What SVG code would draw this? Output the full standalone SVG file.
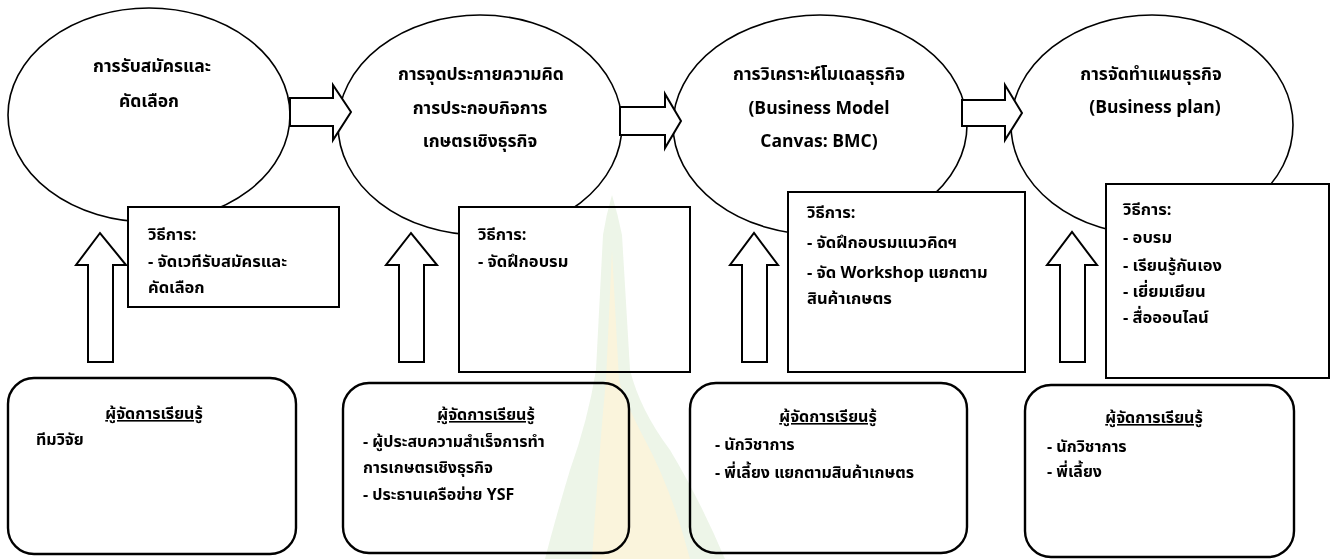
<svg xmlns="http://www.w3.org/2000/svg" width="1337" height="559" viewBox="0 0 1337 559">
<style>
text{font-family:"Noto Sans Thai","Leelawadee UI",Tahoma,"Noto Sans","DejaVu Sans",sans-serif;font-size:16.5px;font-weight:bold;fill:#000}
.c{text-anchor:middle}
.e{font-size:17.5px}
.m{font-size:16px}
.el{fill:#fff;stroke:#000;stroke-width:1.6}
.bx{fill:#fff;stroke:#000;stroke-width:2}
.rb{fill:#fff;stroke:#000;stroke-width:2.4}
.ar{fill:#fff;stroke:#000;stroke-width:2;stroke-linejoin:miter}
.u{text-decoration:underline}
</style>
<rect width="1337" height="559" fill="#fff"/>
<g id="stage1">
<ellipse class="el" cx="149" cy="115" rx="141" ry="107"/>
<text class="c e" x="152" y="72">การรับสมัครและ</text>
<text class="c e" x="149" y="107">คัดเลือก</text>
</g>
<g id="stage2">
<ellipse class="el" cx="480" cy="125" rx="142" ry="110"/>
<text class="c e" x="481" y="80">การจุดประกายความคิด</text>
<text class="c e" x="480" y="114">การประกอบกิจการ</text>
<text class="c e" x="480" y="147">เกษตรเชิงธุรกิจ</text>
</g>
<g id="stage3">
<ellipse class="el" cx="820" cy="125" rx="147" ry="110"/>
<text class="c e" x="819" y="80">การวิเคราะห์โมเดลธุรกิจ</text>
<text class="c e" x="819" y="114">(Business Model</text>
<text class="c e" x="819" y="147">Canvas: BMC)</text>
</g>
<g id="stage4">
<ellipse class="el" cx="1152" cy="125" rx="141" ry="110"/>
<text class="c e" x="1151" y="80">การจัดทำแผนธุรกิจ</text>
<text class="c e" x="1155" y="113">(Business plan)</text>
</g>
<g id="method1">
<rect class="bx" x="128" y="207" width="211" height="100"/>
<text x="148" y="240">วิธีการ:</text>
<text x="148" y="267">- จัดเวทีรับสมัครและ</text>
<text x="148" y="293">คัดเลือก</text>
</g>
<g id="method2">
<rect class="bx" x="459" y="207" width="231" height="165"/>
<text x="478" y="240">วิธีการ:</text>
<text x="478" y="267">- จัดฝึกอบรม</text>
</g>
<g id="method3">
<rect class="bx" x="788" y="192" width="237" height="180"/>
<text x="807" y="218">วิธีการ:</text>
<text x="807" y="248">- จัดฝึกอบรมแนวคิดฯ</text>
<text x="807" y="278">- จัด Workshop แยกตาม</text>
<text x="807" y="304">สินค้าเกษตร</text>
</g>
<g id="method4">
<rect class="bx" x="1106" y="184" width="223" height="194"/>
<text x="1123" y="215">วิธีการ:</text>
<text x="1123" y="243">- อบรม</text>
<text x="1123" y="271">- เรียนรู้กันเอง</text>
<text x="1123" y="297">- เยี่ยมเยียน</text>
<text x="1123" y="323">- สื่อออนไลน์</text>
</g>
<g id="manager1">
<rect class="rb" x="8" y="378" width="288" height="176" rx="26"/>
<text class="c u m" x="154" y="419">ผู้จัดการเรียนรู้</text>
<text class="m" x="36" y="445">ทีมวิจัย</text>
</g>
<g id="manager2">
<rect class="rb" x="343" y="383" width="286" height="170" rx="26"/>
<text class="c u m" x="486" y="420">ผู้จัดการเรียนรู้</text>
<text class="m" x="363" y="447">- ผู้ประสบความสำเร็จการทำ</text>
<text class="m" x="363" y="473">การเกษตรเชิงธุรกิจ</text>
<text class="m" x="363" y="500">- ประธานเครือข่าย YSF</text>
</g>
<g id="manager3">
<rect class="rb" x="690" y="383" width="277" height="170" rx="26"/>
<text class="c u m" x="828" y="422">ผู้จัดการเรียนรู้</text>
<text class="m" x="715" y="450">- นักวิชาการ</text>
<text class="m" x="715" y="478">- พี่เลี้ยง แยกตามสินค้าเกษตร</text>
</g>
<g id="manager4">
<rect class="rb" x="1025" y="385" width="269" height="172" rx="26"/>
<text class="c u m" x="1154" y="423">ผู้จัดการเรียนรู้</text>
<text class="m" x="1047" y="452">- นักวิชาการ</text>
<text class="m" x="1047" y="477">- พี่เลี้ยง</text>
</g>
<g id="connectors">
<path class="ar" d="M290,98 L333,98 L333,85 L351,112 L333,140 L333,126 L290,126 Z"/>
<path class="ar" d="M620,107 L665,107 L665,94 L681,121 L665,148 L665,135 L620,135 Z"/>
<path class="ar" d="M962,100 L1005,100 L1005,85 L1022,113 L1005,140 L1005,126 L962,126 Z"/>
<path class="ar" d="M88,362 L88,265 L76,265 L100,233 L126,265 L113,265 L113,362 Z"/>
<path class="ar" d="M399,362 L399,265 L386,265 L411,233 L437,265 L424,265 L424,362 Z"/>
<path class="ar" d="M742,362 L742,265 L730,265 L754,233 L778,265 L767,265 L767,362 Z"/>
<path class="ar" d="M1060,362 L1060,265 L1047,265 L1072,232 L1097,265 L1085,265 L1085,362 Z"/>
</g>
<g id="watermark" opacity="0.45" style="mix-blend-mode:multiply">
<path d="M612,195 Q606,215 603,235 L596,370 Q588,420 570,470 Q555,520 545,559 L725,559 Q700,500 670,450 Q640,410 630,370 L622,235 Q618,215 612,195 Z" fill="#d6e8cc"/>
<path d="M612,250 L606,380 Q600,440 592,559 L690,559 Q672,490 645,440 Q624,400 619,380 Z" fill="#f3e7b0"/>
</g>
</svg>
